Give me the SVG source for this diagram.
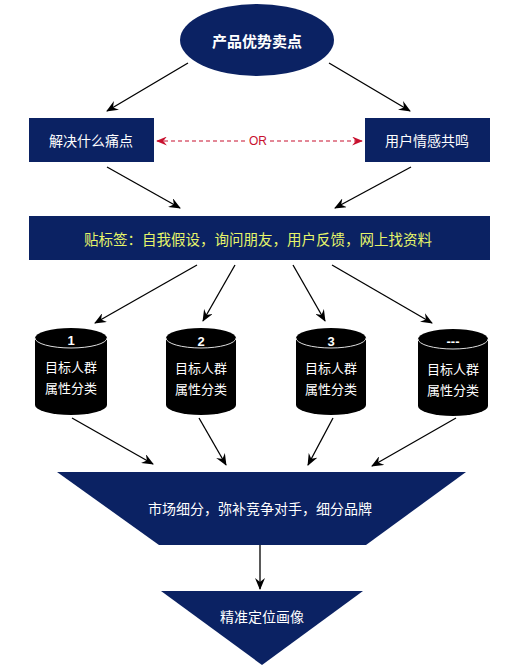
<svg xmlns="http://www.w3.org/2000/svg" width="516" height="667" viewBox="0 0 516 667">
<defs>
<style>
.n{fill:#0b2263}
.t{font-family:"Noto Sans CJK SC","Noto Sans",sans-serif;fill:#fff;text-anchor:middle;dominant-baseline:central}
.c{stroke:#000;stroke-width:1.3;fill:none;marker-end:url(#ah)}
.cyl{fill:#000}
</style>
<marker id="ah" viewBox="0 0 12 10" refX="11" refY="5" markerWidth="12" markerHeight="10" markerUnits="userSpaceOnUse" orient="auto">
<path d="M0,0 L12,5 L0,10 L4,5 z" fill="#000"/>
</marker>
<marker id="rh" viewBox="0 0 12 10" refX="11" refY="5" markerWidth="11" markerHeight="9" markerUnits="userSpaceOnUse" orient="auto-start-reverse">
<path d="M0,0 L12,5 L0,10 L4,5 z" fill="#c8102e"/>
</marker>
</defs>
<rect width="516" height="667" fill="#fff"/>
<g id="connectors">
<line class="c" x1="188" y1="63" x2="107" y2="111"/>
<line class="c" x1="329" y1="63" x2="410" y2="111"/>
<line x1="157" y1="141" x2="247" y2="141" stroke="#c8102e" stroke-width="1.2" stroke-dasharray="4,3" marker-start="url(#rh)"/>
<line x1="270" y1="141" x2="362" y2="141" stroke="#c8102e" stroke-width="1.2" stroke-dasharray="4,3" marker-end="url(#rh)"/>
<text x="258" y="141" style="font-family:'Liberation Sans',sans-serif;font-size:12px;fill:#c8102e;text-anchor:middle;dominant-baseline:central">OR</text>
<line class="c" x1="107" y1="167" x2="180" y2="208"/>
<line class="c" x1="411" y1="167" x2="335" y2="208"/>
<line class="c" x1="197" y1="265" x2="95" y2="323"/>
<line class="c" x1="235" y1="265" x2="203" y2="321"/>
<line class="c" x1="293" y1="265" x2="325" y2="321"/>
<line class="c" x1="332" y1="265" x2="432" y2="323"/>
<line class="c" x1="72" y1="418" x2="153" y2="464"/>
<line class="c" x1="199" y1="418" x2="226" y2="465"/>
<line class="c" x1="333" y1="418" x2="308" y2="465"/>
<line class="c" x1="456" y1="418" x2="372" y2="466"/>
<line class="c" x1="260" y1="545" x2="260" y2="589"/>
</g>
<g id="top">
<ellipse class="n" cx="257" cy="40" rx="77" ry="36"/>
<text class="t" x="257" y="40" style="font-size:15px;font-weight:bold">产品优势卖点</text>
</g>
<g id="pain">
<rect class="n" x="29" y="118" width="125" height="44"/>
<text class="t" x="91" y="140" style="font-size:14px">解决什么痛点</text>
</g>
<g id="emotion">
<rect class="n" x="365" y="118" width="125" height="44"/>
<text class="t" x="427" y="140" style="font-size:14px">用户情感共鸣</text>
</g>
<g id="label">
<rect class="n" x="29" y="216" width="461" height="44"/>
<text class="t" x="258" y="238" style="font-size:14.5px;fill:#e6f56a">贴标签：自我假设，询问朋友，用户反馈，网上找资料</text>
</g>
<g id="cyl1">
<path class="cyl" d="M35,338 A36,10 0 0 1 107,338 L107,405 A36,10 0 0 1 35,405 Z"/>
<path d="M35,338 A36,10 0 0 0 107,338" fill="none" stroke="#ddd" stroke-width="1"/>
<text class="t" x="71" y="340" style="font-size:13px;font-weight:bold;font-family:'Liberation Sans',sans-serif">1</text>
<text class="t" x="71" y="366" style="font-size:13px">目标人群</text>
<text class="t" x="71" y="387" style="font-size:13px">属性分类</text>
</g>
<g id="cyl2">
<path class="cyl" d="M166,338 A35,10 0 0 1 236,338 L236,405 A35,10 0 0 1 166,405 Z"/>
<path d="M166,338 A35,10 0 0 0 236,338" fill="none" stroke="#ddd" stroke-width="1"/>
<text class="t" x="201" y="341" style="font-size:13px;font-weight:bold;font-family:'Liberation Sans',sans-serif">2</text>
<text class="t" x="201" y="367" style="font-size:13px">目标人群</text>
<text class="t" x="201" y="388" style="font-size:13px">属性分类</text>
</g>
<g id="cyl3">
<path class="cyl" d="M296,338 A35,10 0 0 1 366,338 L366,405 A35,10 0 0 1 296,405 Z"/>
<path d="M296,338 A35,10 0 0 0 366,338" fill="none" stroke="#ddd" stroke-width="1"/>
<text class="t" x="331" y="341" style="font-size:13px;font-weight:bold;font-family:'Liberation Sans',sans-serif">3</text>
<text class="t" x="331" y="367" style="font-size:13px">目标人群</text>
<text class="t" x="331" y="388" style="font-size:13px">属性分类</text>
</g>
<g id="cyl4">
<path class="cyl" d="M418,339 A35,10 0 0 1 488,339 L488,406 A35,10 0 0 1 418,406 Z"/>
<path d="M418,339 A35,10 0 0 0 488,339" fill="none" stroke="#ddd" stroke-width="1"/>
<text class="t" x="453" y="341" style="font-size:13px;font-weight:bold;font-family:'Liberation Sans',sans-serif">---</text>
<text class="t" x="453" y="368" style="font-size:13px">目标人群</text>
<text class="t" x="453" y="389" style="font-size:13px">属性分类</text>
</g>
<g id="segment">
<polygon class="n" points="57,472 466,472 366,545 159,545"/>
<text class="t" x="260" y="508" style="font-size:14px">市场细分，弥补竞争对手，细分品牌</text>
</g>
<g id="position">
<polygon class="n" points="161,591 363,591 262,665"/>
<text class="t" x="262" y="616" style="font-size:14px">精准定位画像</text>
</g>
</svg>
